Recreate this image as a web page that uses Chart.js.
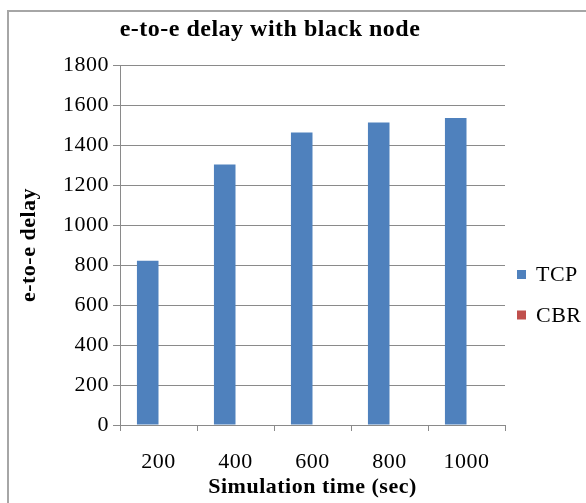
<!DOCTYPE html>
<html>
<head>
<meta charset="utf-8">
<script src="https://cdn.jsdelivr.net/npm/chart.js@4/dist/chart.umd.min.js"></script>
<style>
  html, body { margin: 0; padding: 0; background: #fff; overflow: hidden; }
  #frame {
    position: absolute; left: 7px; top: 10px; width: 640px; height: 560px;
    border-left: 2px solid #a6a6a6; border-top: 2px solid #a6a6a6;
  }
  #chart { position: absolute; left: 0; top: 0; }
</style>
</head>
<body>
<div id="frame"></div>
<canvas id="chart" width="586" height="503"></canvas>
<script>
// data
const simTimes = ['200', '400', '600', '800', '1000'];
const tcpDelay = [821, 1303, 1463, 1513, 1535];
const cbrDelay = [0, 0, 0, 0, 0];
const yTickValues = [0, 200, 400, 600, 800, 1000, 1200, 1400, 1600, 1800];

const serif = "'Liberation Serif', 'Times New Roman', serif";
const gridColor = '#8a8a8a';

// slightly wide text spacing like the original
const letterSpacing = {
    id: 'letterSpacing',
    beforeUpdate(chart) { chart.ctx.letterSpacing = '0.5px'; },
    beforeDraw(chart) { chart.ctx.letterSpacing = '0.5px'; }
};

// title centred over plot + legend, not the whole canvas
const titleCenter = {
    id: 'titleCenter',
    afterLayout(chart) {
        if (chart.titleBlock) {
            chart.titleBlock.left = 0;
            chart.titleBlock.right = 540;
        }
    }
};

// legend on the right, two rows
const sideLegend = {
    id: 'sideLegend',
    afterDraw(chart) {
        const ctx = chart.ctx;
        const x = chart.chartArea.right + 12;
        const rows = [274.5, 315];
        ctx.save();
        ctx.letterSpacing = '0.5px';
        ctx.font = '22px ' + serif;
        ctx.textBaseline = 'middle';
        ctx.textAlign = 'left';
        chart.data.datasets.forEach((ds, i) => {
            ctx.fillStyle = ds.backgroundColor;
            ctx.fillRect(x, rows[i] - 4.5, 9, 9);
            ctx.fillStyle = '#000';
            ctx.fillText(ds.label, x + 19, rows[i] + 1);
        });
        ctx.restore();
    }
};

const ctx = document.getElementById('chart').getContext('2d');

new Chart(ctx, {
    type: 'bar',
    data: {
        labels: simTimes,
        datasets: [
            { label: 'TCP', data: tcpDelay, backgroundColor: '#4f81bd' },
            { label: 'CBR', data: cbrDelay, backgroundColor: '#c0504d' }
        ]
    },
    options: {
        responsive: false,
        animation: false,
        layout: { padding: { left: 0, right: 81, top: 0, bottom: 0 } },
        datasets: {
            bar: { categoryPercentage: 0.56, barPercentage: 1.0 }
        },
        plugins: {
            legend: { display: false },
            tooltip: { enabled: false },
            title: {
                display: true,
                text: 'e-to-e delay with black node',
                color: '#000',
                font: { family: serif, size: 24, weight: 'bold', lineHeight: 1.2 },
                padding: { top: 15, bottom: 21.2 }
            }
        },
        scales: {
            x: {
                grid: {
                    offset: true,
                    drawOnChartArea: false,
                    drawTicks: true,
                    tickLength: 6,
                    color: gridColor
                },
                border: { display: true, color: gridColor, width: 1 },
                ticks: {
                    color: '#000',
                    font: { family: serif, size: 22 },
                    padding: 18,
                    maxRotation: 0
                },
                title: {
                    display: true,
                    text: 'Simulation time (sec)',
                    color: '#000',
                    font: { family: serif, size: 22, weight: 'bold', lineHeight: 1.2 },
                    padding: { top: 0, bottom: 2 }
                },
                afterFit(scale) { scale.height = 78; }
            },
            y: {
                min: 0,
                max: 1800,
                afterBuildTicks(scale) {
                    scale.ticks = yTickValues.map(v => ({ value: v }));
                },
                grid: {
                    color: gridColor,
                    drawTicks: true,
                    tickLength: 7
                },
                border: { display: true, color: gridColor, width: 1 },
                ticks: {
                    color: '#000',
                    font: { family: serif, size: 22 },
                    padding: 4,
                    callback: v => String(v)
                },
                title: {
                    display: true,
                    text: 'e-to-e delay',
                    color: '#000',
                    font: { family: serif, size: 22, weight: 'bold', lineHeight: 1.2 },
                    padding: { top: 16, bottom: 0 }
                },
                afterFit(scale) { scale.width = 120; }
            }
        }
    },
    plugins: [letterSpacing, titleCenter, sideLegend]
});
</script>
</body>
</html>
